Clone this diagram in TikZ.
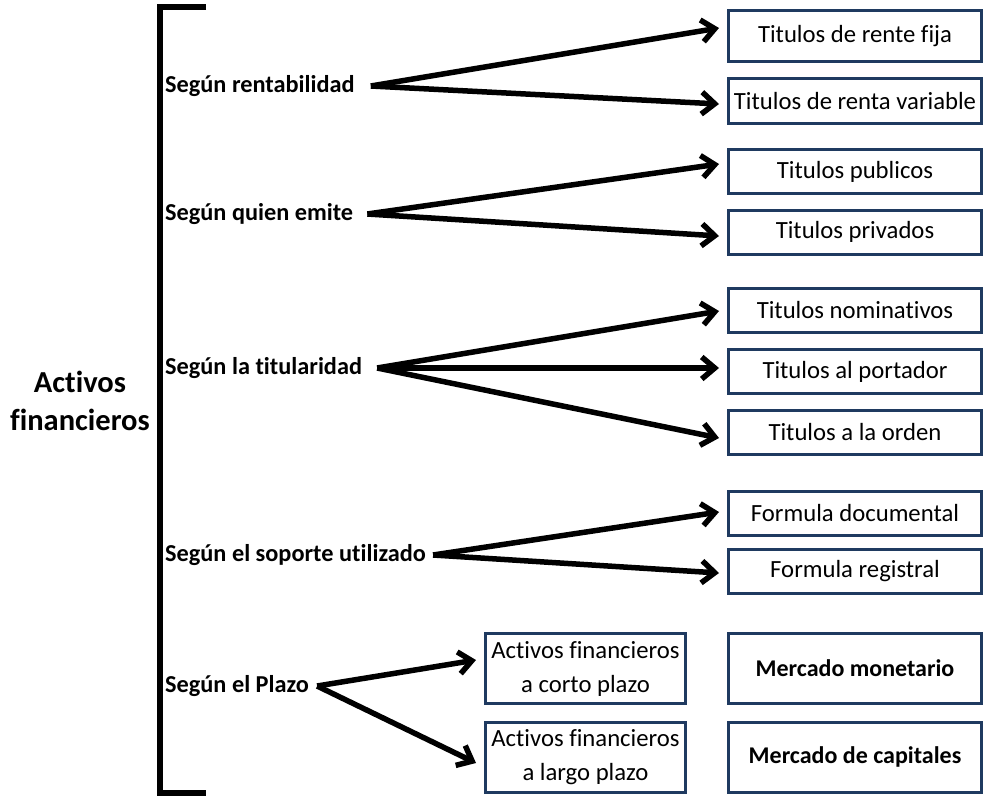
\documentclass[tikz,border=0pt]{standalone}
\usepackage{fontspec}
\setmainfont{Carlito}[Ligatures=CommonOff]
\usetikzlibrary{arrows.meta}
\definecolor{boxblue}{HTML}{1F3A60}

\begin{document}
\begin{tikzpicture}[x=1pt,y=-1pt,
  caja/.style={draw=boxblue, line width=3pt, minimum width=253pt,
    minimum height=44pt, inner sep=0pt, align=center,
    font=\fontsize{24.7}{34}\selectfont},
  criterio/.style={anchor=west, inner sep=0pt, font=\bfseries\fontsize{24.3}{30}\selectfont},
  flecha/.style={line width=5.5pt, -{Straight Barb[length=13pt,width=22pt]}}]
  \useasboundingbox (0,0) rectangle (984,797);
  % Bracket
  \draw[line width=6pt] (206,7) -- (160,7) -- (160,793) -- (206,793);
  \node[align=center, font=\bfseries\fontsize{30.5}{38}\selectfont] (af) at (80,401) {Activos\\financieros};
  % Criteria
  \node[criterio] (s1) at (165,86) {Según rentabilidad};
  \node[criterio] (s2) at (165,214) {Según quien emite};
  \node[criterio] (s3) at (165,368) {Según la titularidad};
  \node[criterio] (s4) at (165,555) {Según el soporte utilizado};
  \node[criterio] (s5) at (165,686) {Según el Plazo};
  % Boxes
  \node[caja, minimum height=51pt] (b1) at (855,36) {Titulos de rente fija};
  \node[caja] (b2) at (855,101) {Titulos de renta variable};
  \node[caja] (b3) at (855,171.5) {Titulos publicos};
  \node[caja] (b4) at (855,232) {Titulos privados};
  \node[caja] (b5) at (855,310) {Titulos nominativos};
  \node[caja] (b6) at (855,371.5) {Titulos al portador};
  \node[caja] (b7) at (855,432) {Titulos a la orden};
  \node[caja] (b8) at (855,513) {Formula documental};
  \node[caja] (b9) at (855,571) {Formula registral};
  \node[caja, minimum width=200pt, minimum height=70pt] (c1) at (585.5,668.5) {Activos financieros\\a corto plazo};
  \node[caja, minimum width=200pt, minimum height=70pt] (c2) at (585.5,757) {Activos financieros\\a largo plazo};
  \node[caja, minimum height=70pt, font=\bfseries\fontsize{24}{30}\selectfont] (m1) at (855,668.5) {Mercado monetario};
  \node[caja, minimum height=70pt, font=\bfseries\fontsize{24}{30}\selectfont] (m2) at (855,757) {Mercado de capitales};
  % Forks
  \coordinate (f1) at ([xshift=16pt]s1.east);
  \coordinate (f2) at ([xshift=14pt]s2.east);
  \coordinate (f3) at ([xshift=15pt]s3.east);
  \coordinate (f4) at ([xshift=7pt]s4.east);
  \coordinate (f5) at ([xshift=8pt]s5.east);
  % Arrows
  \draw[flecha] (f1) -- ([xshift=-8pt,yshift=8pt]b1.west);
  \draw[flecha] (f1) -- ([xshift=-8pt,yshift=-3pt]b2.west);
  \draw[flecha] (f2) -- ([xshift=-8pt,yshift=7.5pt]b3.west);
  \draw[flecha] (f2) -- ([xshift=-8pt,yshift=-4pt]b4.west);
  \draw[flecha] (f3) -- ([xshift=-8pt,yshift=-1pt]b5.west);
  \draw[flecha] (f3) -- ([xshift=-8pt,yshift=3.5pt]b6.west);
  \draw[flecha] (f3) -- ([xshift=-8pt,yshift=-6pt]b7.west);
  \draw[flecha] (f4) -- ([xshift=-8pt,yshift=1pt]b8.west);
  \draw[flecha] (f4) -- ([xshift=-8pt,yshift=-2pt]b9.west);
  \draw[flecha] (f5) -- ([xshift=-8pt,yshift=8.5pt]c1.west);
  \draw[flecha] (f5) -- ([xshift=-8pt,yshift=-6pt]c2.west);
\end{tikzpicture}
\end{document}
